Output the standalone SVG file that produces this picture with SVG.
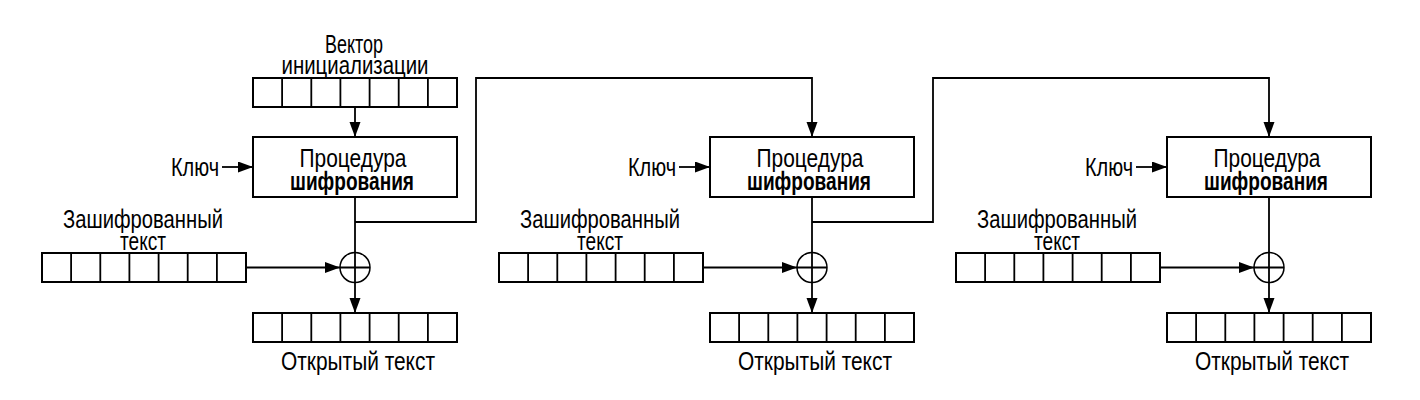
<svg xmlns="http://www.w3.org/2000/svg" width="1420" height="400" viewBox="0 0 1420 400">
<style>
.t{font-family:"Liberation Sans",Arial,sans-serif;font-size:26px;fill:#000}
.b{font-weight:bold}
.m{text-anchor:middle}
.e{text-anchor:end}
.box{fill:#fff;stroke:#000;stroke-width:2}
.ln{fill:none;stroke:#000;stroke-width:1.8}
.arr{fill:none;stroke:#000;stroke-width:1.8;marker-end:url(#ah)}
</style>
<defs>
<marker id="ah" markerUnits="userSpaceOnUse" markerWidth="16" markerHeight="12" refX="15" refY="5.5" orient="auto">
<path d="M0,0 L15,5.5 L0,11 z" fill="#000"/>
</marker>
<g id="reg">
<rect class="box" x="0" y="0" width="204" height="29"/>
<path class="ln" d="M29.1,0V29M58.3,0V29M87.4,0V29M116.6,0V29M145.7,0V29M174.9,0V29"/>
</g>
</defs>
<rect width="1420" height="400" fill="#fff"/>

<g id="connectors">
<path class="arr" d="M355,107V137"/>
<path class="arr" d="M222,167H253"/>
<path class="ln" d="M355,197V252.5"/>
<path class="arr" d="M355,222H476V78H812V137"/>
<path class="arr" d="M246,267.5H340"/>
<path class="arr" d="M355,282.5V313"/>
<path class="arr" d="M679,167H710"/>
<path class="ln" d="M812,197V252.5"/>
<path class="arr" d="M812,222H933V78H1269V137"/>
<path class="arr" d="M703,267.5H797"/>
<path class="arr" d="M812,282.5V313"/>
<path class="arr" d="M1136,167H1167"/>
<path class="ln" d="M1269,197V252.5"/>
<path class="arr" d="M1160,267.5H1254"/>
<path class="arr" d="M1269,282.5V313"/>
</g>

<g id="iv">
<use href="#reg" x="253" y="78"/>
<text class="t m" x="354" y="53" textLength="58" lengthAdjust="spacingAndGlyphs">Вектор</text>
<text class="t m" x="355" y="74" textLength="147" lengthAdjust="spacingAndGlyphs">инициализации</text>
</g>

<g id="enc1">
<rect class="box" x="253" y="137" width="204" height="60"/>
<text class="t m" x="353" y="167" textLength="107" lengthAdjust="spacingAndGlyphs">Процедура</text>
<text class="t b m" x="352" y="190" textLength="124" lengthAdjust="spacingAndGlyphs">шифрования</text>
<text class="t e" x="219" y="176" textLength="48" lengthAdjust="spacingAndGlyphs">Ключ</text>
</g>
<g id="xor1">
<circle cx="355" cy="267.5" r="15" fill="#fff" stroke="#000" stroke-width="1.5"/>
<path class="ln" d="M340,267.5H370M355,252.5V282.5" stroke-width="1.5"/>
</g>
<g id="ct1">
<use href="#reg" x="42" y="253"/>
<text class="t m" x="143" y="228" textLength="160" lengthAdjust="spacingAndGlyphs">Зашифрованный</text>
<text class="t m" x="143" y="250" textLength="46" lengthAdjust="spacingAndGlyphs">текст</text>
</g>
<g id="pt1">
<use href="#reg" x="253" y="313"/>
<text class="t m" x="358" y="370" textLength="154" lengthAdjust="spacingAndGlyphs">Открытый текст</text>
</g>

<g id="enc2">
<rect class="box" x="710" y="137" width="204" height="60"/>
<text class="t m" x="810" y="167" textLength="107" lengthAdjust="spacingAndGlyphs">Процедура</text>
<text class="t b m" x="809" y="190" textLength="124" lengthAdjust="spacingAndGlyphs">шифрования</text>
<text class="t e" x="676" y="176" textLength="48" lengthAdjust="spacingAndGlyphs">Ключ</text>
</g>
<g id="xor2">
<circle cx="812" cy="267.5" r="15" fill="#fff" stroke="#000" stroke-width="1.5"/>
<path class="ln" d="M797,267.5H827M812,252.5V282.5" stroke-width="1.5"/>
</g>
<g id="ct2">
<use href="#reg" x="499" y="253"/>
<text class="t m" x="600" y="228" textLength="160" lengthAdjust="spacingAndGlyphs">Зашифрованный</text>
<text class="t m" x="600" y="250" textLength="46" lengthAdjust="spacingAndGlyphs">текст</text>
</g>
<g id="pt2">
<use href="#reg" x="710" y="313"/>
<text class="t m" x="815" y="370" textLength="154" lengthAdjust="spacingAndGlyphs">Открытый текст</text>
</g>

<g id="enc3">
<rect class="box" x="1167" y="137" width="204" height="60"/>
<text class="t m" x="1267" y="167" textLength="107" lengthAdjust="spacingAndGlyphs">Процедура</text>
<text class="t b m" x="1266" y="190" textLength="124" lengthAdjust="spacingAndGlyphs">шифрования</text>
<text class="t e" x="1133" y="176" textLength="48" lengthAdjust="spacingAndGlyphs">Ключ</text>
</g>
<g id="xor3">
<circle cx="1269" cy="267.5" r="15" fill="#fff" stroke="#000" stroke-width="1.5"/>
<path class="ln" d="M1254,267.5H1284M1269,252.5V282.5" stroke-width="1.5"/>
</g>
<g id="ct3">
<use href="#reg" x="956" y="253"/>
<text class="t m" x="1057" y="228" textLength="160" lengthAdjust="spacingAndGlyphs">Зашифрованный</text>
<text class="t m" x="1057" y="250" textLength="46" lengthAdjust="spacingAndGlyphs">текст</text>
</g>
<g id="pt3">
<use href="#reg" x="1167" y="313"/>
<text class="t m" x="1272" y="370" textLength="154" lengthAdjust="spacingAndGlyphs">Открытый текст</text>
</g>
</svg>
